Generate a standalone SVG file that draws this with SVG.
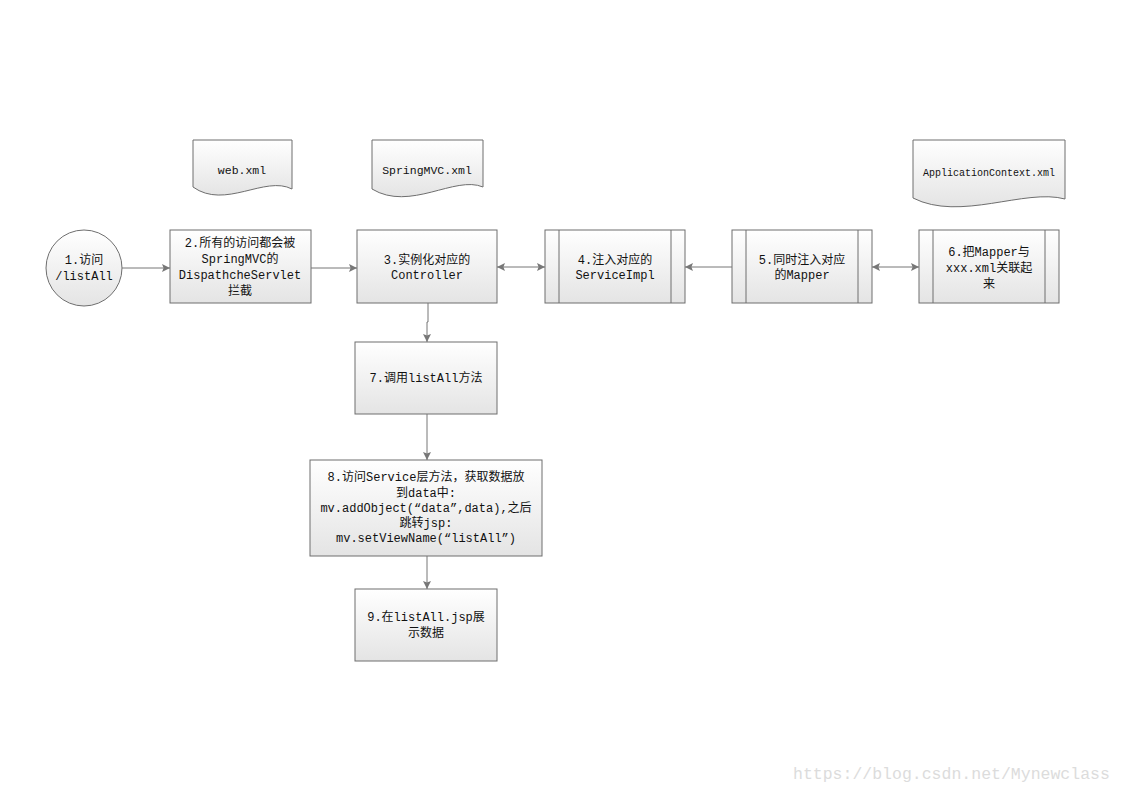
<svg xmlns="http://www.w3.org/2000/svg" width="1123" height="794" viewBox="0 0 1123 794">
<style>
.box{fill:url(#g);stroke:#6e6e6e;stroke-width:1}
.ln{fill:none;stroke:#6e6e6e;stroke-width:1}
.c{stroke:#777;stroke-width:1;fill:none}
text{font-family:"Liberation Mono","Noto Sans CJK SC",monospace;font-size:12px;fill:#111;text-anchor:middle}
.d{font-size:11.5px}
.s{font-size:10px}
.w{font-size:16.5px;fill:#dcdcdc;text-anchor:start}
</style>
<defs>
<linearGradient id="g" x1="0" y1="0" x2="0" y2="1">
<stop offset="0" stop-color="#ffffff"/>
<stop offset="1" stop-color="#e4e4e4"/>
</linearGradient>
<marker id="a" viewBox="0 0 10 10" refX="10" refY="5" markerWidth="8" markerHeight="8" orient="auto-start-reverse" markerUnits="userSpaceOnUse">
<path d="M0,0 L10,5 L0,10 L2,5 Z" fill="#777"/>
</marker>
</defs>
<rect width="1123" height="794" fill="#fff"/>

<g id="doc-web">
<path class="box" d="M193,140 H292 V189 C265,175 225,210 193,187 Z"/>
<text class="d" x="242" y="174">web.xml</text>
</g>
<g id="doc-springmvc">
<path class="box" d="M372,140 H483 V187 C455,175 410,212 372,189 Z"/>
<text class="d" x="427" y="174">SpringMVC.xml</text>
</g>
<g id="doc-appctx">
<path class="box" d="M913,140 H1065 V199 C1025,188 960,222 913,198 Z"/>
<text class="s" x="989" y="176">ApplicationContext.xml</text>
</g>

<g id="n1">
<circle class="box" cx="84" cy="268" r="38"/>
<text x="84" y="264">1.访问</text>
<text x="84" y="280">/listAll</text>
</g>
<g id="n2">
<rect class="box" x="170" y="230" width="141" height="73"/>
<text x="240" y="247">2.所有的访问都会被</text>
<text x="240" y="263">SpringMVC的</text>
<text x="240" y="279">DispathcheServlet</text>
<text x="240" y="295">拦截</text>
</g>
<g id="n3">
<rect class="box" x="357" y="230" width="140" height="73"/>
<text x="427" y="264">3.实例化对应的</text>
<text x="427" y="279">Controller</text>
</g>
<g id="n4">
<rect class="box" x="545" y="230" width="140" height="73"/>
<line class="ln" x1="559" y1="230" x2="559" y2="303"/>
<line class="ln" x1="671" y1="230" x2="671" y2="303"/>
<text x="615" y="264">4.注入对应的</text>
<text x="615" y="279">ServiceImpl</text>
</g>
<g id="n5">
<rect class="box" x="732" y="230" width="140" height="73"/>
<line class="ln" x1="746" y1="230" x2="746" y2="303"/>
<line class="ln" x1="858" y1="230" x2="858" y2="303"/>
<text x="802" y="264">5.同时注入对应</text>
<text x="802" y="279">的Mapper</text>
</g>
<g id="n6">
<rect class="box" x="919" y="230" width="140" height="73"/>
<line class="ln" x1="933" y1="230" x2="933" y2="303"/>
<line class="ln" x1="1045" y1="230" x2="1045" y2="303"/>
<text x="989" y="256">6.把Mapper与</text>
<text x="989" y="272">xxx.xml关联起</text>
<text x="989" y="288">来</text>
</g>
<g id="n7">
<rect class="box" x="355" y="342" width="142" height="72"/>
<text x="426" y="382">7.调用listAll方法</text>
</g>
<g id="n8">
<rect class="box" x="310" y="460" width="232" height="96"/>
<text x="426" y="481">8.访问Service层方法，获取数据放</text>
<text x="426" y="497">到data中:</text>
<text x="426" y="512">mv.addObject(“data”,data),之后</text>
<text x="426" y="527">跳转jsp:</text>
<text x="426" y="542">mv.setViewName(“listAll”)</text>
</g>
<g id="n9">
<rect class="box" x="355" y="589" width="142" height="72"/>
<text x="426" y="621">9.在listAll.jsp展</text>
<text x="426" y="637">示数据</text>
</g>

<g id="connectors">
<line class="c" x1="122" y1="268" x2="170" y2="268" marker-end="url(#a)"/>
<line class="c" x1="311" y1="268" x2="357" y2="268" marker-end="url(#a)"/>
<line class="c" x1="497" y1="267" x2="545" y2="267" marker-start="url(#a)" marker-end="url(#a)"/>
<line class="c" x1="732" y1="267" x2="685" y2="267" marker-end="url(#a)"/>
<line class="c" x1="872" y1="267" x2="919" y2="267" marker-start="url(#a)" marker-end="url(#a)"/>
<path class="c" d="M428,303 V322 H427 V342" marker-end="url(#a)"/>
<line class="c" x1="427" y1="414" x2="427" y2="460" marker-end="url(#a)"/>
<line class="c" x1="427" y1="556" x2="427" y2="589" marker-end="url(#a)"/>
</g>

<text class="w" x="793" y="779">https://blog.csdn.net/Mynewclass</text>
</svg>
